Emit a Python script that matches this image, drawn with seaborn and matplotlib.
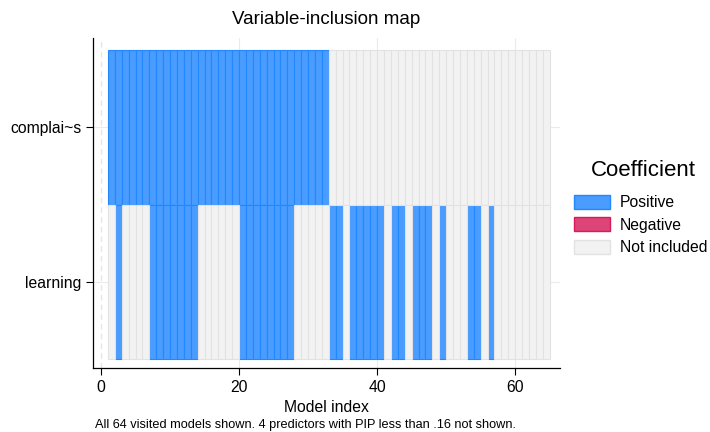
import pandas as pd
import seaborn as sns
import matplotlib.pyplot as plt
from matplotlib.patches import Patch

# models visited (1..64) and which ones include each predictor
models = list(range(1, 65))
complaints_pos = list(range(1, 33))
learning_pos = [2, 7, 8, 9, 10, 11, 12, 13, 20, 21, 22, 23, 24, 25, 26, 27,
                33, 34, 36, 37, 38, 39, 40, 42, 43, 45, 46, 47, 49, 53, 54, 56]
variables = ["learning", "complai~s"]
status_names = ["Positive", "Negative", "Not included"]
face = {"Positive": "#4A9DFF", "Negative": "#DD4477", "Not included": "#F2F2F2"}
edge = {"Positive": "#2288FF", "Negative": "#D81B60", "Not included": "#E2E2E2"}

rows = []
for m in models:
    rows.append({"model": m, "variable": "complai~s",
                 "status": "Positive" if m in complaints_pos else "Not included"})
    rows.append({"model": m, "variable": "learning",
                 "status": "Positive" if m in learning_pos else "Not included"})
df = pd.DataFrame(rows)
df["row"] = df["variable"].map({v: i for i, v in enumerate(variables)})

sns.set_theme(style="ticks")
plt.rcParams["font.family"] = ["Liberation Sans", "DejaVu Sans"]
plt.rcParams["text.color"] = "black"
plt.rcParams["axes.labelcolor"] = "black"
plt.rcParams["xtick.color"] = "black"
plt.rcParams["ytick.color"] = "black"

fig = plt.figure(figsize=(7.1, 4.32), dpi=100)
ax = fig.add_axes([93 / 710, 64 / 432, 467 / 710, 330 / 432])

# light grid
for xv in [20, 40, 60]:
    ax.axvline(xv, color="#EBEBEB", lw=0.8, zorder=0)
for yv in [0, 1]:
    ax.axhline(yv, color="#EBEBEB", lw=0.8, zorder=0)
ax.axvline(0, color="#E6E6E6", lw=1.0, ls=(0, (4, 3)), zorder=0)

for st in status_names:
    sub = df[df["status"] == st]
    if len(sub) == 0:
        continue
    ax.bar(sub["model"], 1, bottom=sub["row"] - 0.5, width=1, align="edge",
           color=face[st], edgecolor=edge[st], linewidth=0.8, zorder=2)

ax.set_xlim(-1.16, 66.5)
ax.set_ylim(-0.56, 1.58)
ax.set_xticks([0, 20, 40, 60])
ax.set_yticks([0, 1], variables)
ax.tick_params(axis="both", labelsize=11.3, length=5, width=0.8, color="black")
ax.set_xlabel("Model index", fontsize=11.3)
ax.set_ylabel("")
ax.set_title("Variable-inclusion map", fontsize=13.5, pad=10)
for s in ["left", "bottom"]:
    ax.spines[s].set_color("black")
    ax.spines[s].set_linewidth(0.9)
sns.despine(ax=ax)

handles = [Patch(facecolor=face[s], edgecolor=edge[s], linewidth=1.0) for s in status_names]
ax.legend(handles, status_names, loc="center left",
          bbox_to_anchor=(0.999, 0.433), frameon=False, fontsize=11.3,
          handlelength=2.3, handleheight=1.0,
          handletextpad=0.65, labelspacing=0.45)
fig.text(643 / 710, 1 - 170 / 432, "Coefficient", fontsize=16, ha="center", va="center")

fig.text(95 / 710, 1 / 432, "All 64 visited models shown. 4 predictors with PIP less than .16 not shown.",
         fontsize=9.2, ha="left", va="bottom")

fig.savefig("out.png", dpi=100)
